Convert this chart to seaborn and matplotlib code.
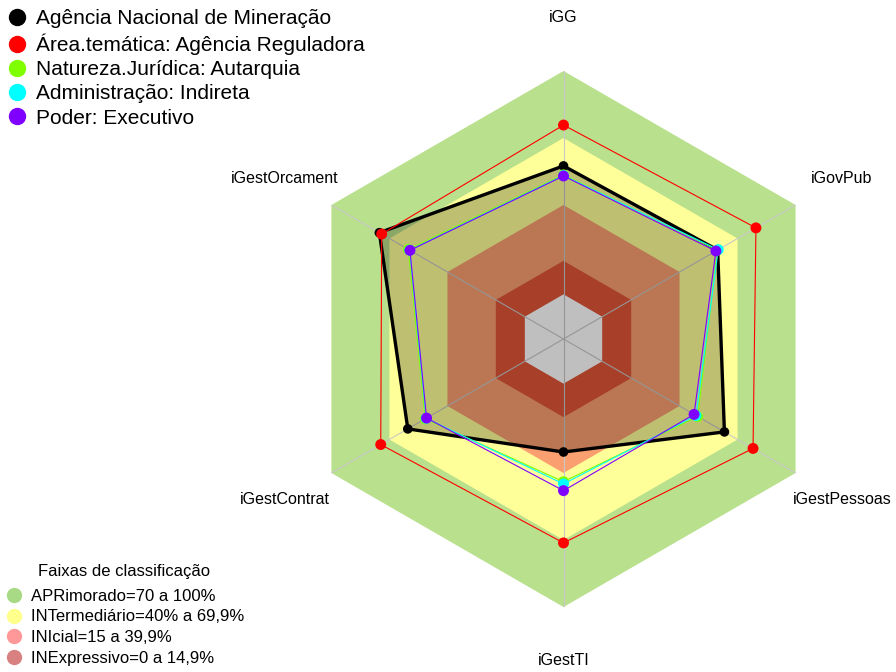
import numpy as np
import pandas as pd
import matplotlib
matplotlib.use("Agg")
import matplotlib.pyplot as plt
from matplotlib.lines import Line2D
import seaborn as sns

# eixos no sentido horario a partir do topo
eixos = ["iGG", "iGovPub", "iGestPessoas", "iGestTI", "iGestContrat", "iGestOrcament"]

series_nomes = ["Agência Nacional de Mineração",
                "Área.temática: Agência Reguladora",
                "Natureza.Jurídica: Autarquia",
                "Administração: Indireta",
                "Poder: Executivo"]
series_cores = ["#000000", "#FF0000", "#80FF00", "#00FFFF", "#8000FF"]

anm = [57.5, 59.7, 63.2, 30.6, 60.5, 75.2]
area_tematica = [75.8, 79.5, 78.0, 71.3, 74.5, 74.0]
natureza = [53.5, 59.5, 49.4, 43.9, 51.5, 60.2]
administracao = [53.2, 60.0, 48.5, 44.9, 51.0, 59.5]
poder = [53.0, 58.8, 47.5, 47.9, 50.8, 59.4]
valores = [anm, area_tematica, natureza, administracao, poder]

# faixas de classificacao (limite superior de cada faixa)
faixas_nomes = ["APRimorado=70 a 100%", "INTermediário=40% a 69,9%",
                "INIcial=15 a 39,9%", "INExpressivo=0 a 14,9%"]
faixas_limites = [100, 70, 40, 15]
faixas_cores = ["#B9E08C", "#FFFF99", "#FAA070", "#E05538"]
legenda_cores = ["#A8D985", "#FFFF8C", "#FF9999", "#D98080"]

sns.set_theme(style="white")
plt.rcParams["font.family"] = ["Liberation Sans", "DejaVu Sans"]
plt.rcParams["text.color"] = "black"

fig = plt.figure(figsize=(8.96, 6.72), dpi=100)
ax = fig.add_axes([295.5 / 896, 65 / 672, 536 / 896, 536 / 672], projection="polar")
ax.set_theta_zero_location("N")
ax.set_theta_direction(-1)
ax.set_ylim(-20, 100)
ax.axis("off")

n = len(eixos)
theta = np.linspace(0, 2 * np.pi, n, endpoint=False)
theta_f = np.append(theta, theta[0])

# faixas
for lim, cor in zip(faixas_limites, faixas_cores):
    ax.fill(theta_f, [lim] * (n + 1), color=cor, lw=0, zorder=1)
ax.fill(theta_f, [0] * (n + 1), color="white", lw=0, zorder=1)

# linhas dos eixos
for t in theta:
    ax.plot([t, t], [-20, 100], color="#C8C8C8", lw=0.8, zorder=2)

# series
for i, (nome, cor, vals) in enumerate(zip(series_nomes, series_cores, valores)):
    df = pd.DataFrame({"theta": theta_f, "valor": vals + [vals[0]]})
    if i == 0:
        ax.fill(theta_f, df["valor"], color="black", alpha=0.25, lw=0, zorder=3)
        lw, s = 2.4, 48
    else:
        lw, s = 0.8, 62
    sns.lineplot(data=df, x="theta", y="valor", sort=False, estimator=None,
                 color=cor, lw=lw, ax=ax, zorder=4 + i)
    sns.scatterplot(data=df.iloc[:-1], x="theta", y="valor", color=cor, s=s,
                    edgecolor="none", ax=ax, zorder=4 + i)
ax.set_xlabel("")
ax.set_ylabel("")

# rotulos dos eixos
for t, rot in zip(theta, eixos):
    ax.text(t, 124, rot, ha="center", va="center", fontsize=11.5, clip_on=False,
            color="black")

# legenda das series
h1 = [Line2D([], [], marker="o", ls="none", markerfacecolor=c, markeredgecolor=c,
             markersize=11.5) for c in series_cores]
leg1 = fig.legend(h1, series_nomes, loc="upper left",
                  bbox_to_anchor=(-1 / 896, 1 - 4 / 672),
                  frameon=False, fontsize=15, handletextpad=0.34, labelspacing=0.25,
                  borderaxespad=0.0, borderpad=0.25, handlelength=1.2)

# legenda das faixas
h2 = [Line2D([], [], marker="o", ls="none", markerfacecolor=c, markeredgecolor=c,
             markersize=10) for c in legenda_cores]
leg2 = fig.legend(h2, faixas_nomes, title="Faixas de classificação", loc="lower left",
                  bbox_to_anchor=(1 / 896, 3 / 672), frameon=False, fontsize=12,
                  title_fontsize=12, handletextpad=0.5, labelspacing=0.34,
                  borderaxespad=0.0, borderpad=0.2, handlelength=1.1)
leg2._legend_box.sep = 7

fig.savefig("out.png", dpi=100)
